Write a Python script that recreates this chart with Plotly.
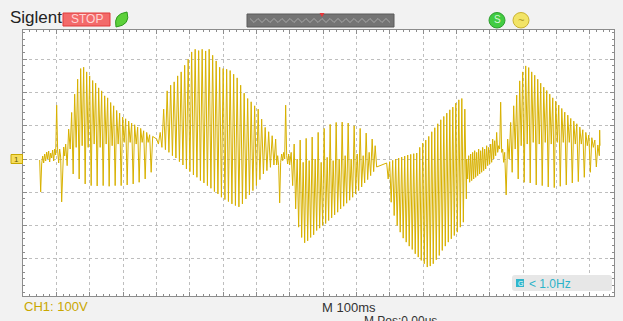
import numpy as np
import plotly.graph_objects as go

# ---------------- CH1 waveform (time in ms, voltage in V) -------------
lead_span_ms = [50, 125]
lead_v = [-3, -99, -15, 9, -12, 15, -6, 21, 0, 24, -9, 18, 3, 27, -6, 30, 12, 162, 24, -12,
          30, 6, -129, 0, 36, 9]

b_span_ms = [128, 389]
b_peaks = [45, 90, 140, 195, 240, 272, 276, 262, 250, 236, 228, 214, 205, 190, 184, 170, 160,
           146, 138, 126, 121, 114, 108, 103, 96, 92, 85, 80, 73, 68]
b_troughs = [-20, 30, -45, 35, -60, 40, -75, 35, -80, 45, -81, 35, -80, 45, -82, 40, -80, 45,
             -80, 50, -78, 50, -75, 45, -70, 50, -60, 50, -40]

c_span_ms = [401, 758]
c_peaks = [60, 80, 150, 205, 222, 232, 250, 262, 282, 300, 322, 330, 326, 330, 325, 330, 312,
           295, 276, 272, 270, 266, 255, 244, 222, 198, 182, 172, 160, 150, 120, 95, 82, 70, 60]
c_troughs = [45, 35, 28, 20, 10, 3, -8, -18, -30, -38, -48, -55, -65, -72, -80, -88, -98, -105,
             -115, -122, -128, -135, -140, -144, -135, -120, -108, -95, -80, -62, -45, -35, -25, -18]

g1_span_ms = [761, 797]
g1_v = [-18, 10, -20, -132, -10, 15, -5, 20, 0, 162, 10, -15, 15]

d_span_ms = [800, 1061]
d_troughs = [-18, -80, -150, -205, -236, -252, -246, -236, -228, -215, -208, -200, -194, -185,
             -177, -168, -160, -150, -142, -133, -124, -115, -105, -95, -84, -72, -62, -50, -38, -24]
d_peaks = [20, 45, 0, 57, -10, 62, -5, 66, 0, 80, -10, 92, 5, 104, -5, 110, 0, 111, 10, 108, 0,
           100, 15, 92, 10, 78, 20, 60, 40]

e_span_ms = [1091, 1330]
e_peaks = [-12, -8, -4, 0, 3, 6, 9, 12, 14, 16, 18, 35, 48, 57, 68, 82, 94, 106, 118, 128, 138,
           148, 156, 168, 178, 182, 150]
e_troughs = [-60, -130, -170, -200, -220, -238, -250, -262, -272, -285, -295, -305, -315, -325,
             -322, -315, -303, -290, -275, -262, -250, -240, -230, -220, -205, -190, -120]

g2_span_ms = [1331, 1442]
g2_v = [0, -60, 10, -70, 15, -65, 20, -60, 25, -55, 20, -50, 30, -45, 25, -40, 35, -35, 30, -30,
        40, -20, 35, -15, 45, -10, 60, 0, 55, 10, 80, 20, 40, 30, 171, 20, 30, -10]

f_span_ms = [1445, 1729]
f_peaks = [20, 60, 110, 160, 192, 235, 262, 280, 275, 262, 252, 240, 228, 216, 206, 195, 184,
           174, 162, 152, 141, 132, 122, 114, 106, 96, 88, 80, 72, 64, 57, 42]
f_troughs = [-108, 0, -40, 30, -60, 40, -70, 45, -72, 50, -78, 45, -80, 50, -84, 45, -86, 50,
             -82, 50, -78, 50, -72, 45, -68, 45, -55, 40, -40, 35, -24, 10]

tail_span_ms = [1730, 1731]
tail_v = [87, 40]

# screen scales
x_range_ms = [0, 1773]        # 100 ms / div
y_range_v = [-412, 388]       # 100 V / div


def interleave(a, b):
    out = []
    for i in range(max(len(a), len(b))):
        if i < len(a):
            out.append(a[i])
        if i < len(b):
            out.append(b[i])
    return out


segments = [
    (lead_span_ms, lead_v),
    (b_span_ms, interleave(b_peaks, b_troughs)),
    (c_span_ms, interleave(c_peaks, c_troughs)),
    (g1_span_ms, g1_v),
    (d_span_ms, interleave(d_troughs, d_peaks)),
    (e_span_ms, interleave(e_peaks, e_troughs)),
    (g2_span_ms, g2_v),
    (f_span_ms, interleave(f_peaks, f_troughs)),
    (tail_span_ms, tail_v),
]
ts, vs = [], []
for span, vals in segments:
    ts.extend(np.linspace(span[0], span[1], len(vals)).tolist())
    vs.extend(vals)

# ---------------- figure ----------------
W, H = 623, 321
ML, MR, MT, MB = 23, 9, 30, 25
PW, PH = W - ML - MR, H - MT - MB


def px(x):
    return (x - ML) / PW


def py(y):
    return (H - MB - y) / PH


TRACE = '#D8B100'
FONT = 'Liberation Sans, Arial, sans-serif'

fig = go.Figure()
fig.add_trace(go.Scatter(x=ts, y=vs, mode='lines',
                         line=dict(color=TRACE, width=1), hoverinfo='skip'))

shapes = []
# STOP box
shapes.append(dict(type='rect', xref='paper', yref='paper', x0=px(63), x1=px(110), y0=py(26), y1=py(13),
                   fillcolor='#F36A6A', line=dict(color='#E03A3A', width=1)))
# green leaf icon
shapes.append(dict(type='path', xref='paper', yref='paper',
                   path='M {:.4f},{:.4f} Q {:.4f},{:.4f} {:.4f},{:.4f} Q {:.4f},{:.4f} {:.4f},{:.4f} Z'.format(
                       px(116), py(27), px(113), py(14), px(127), py(12), px(131), py(25), px(116), py(27)),
                   fillcolor='#5CD03A', line=dict(color='#2E9A1E', width=1)))
# grey timebase bar
shapes.append(dict(type='rect', xref='paper', yref='paper', x0=px(247), x1=px(394), y0=py(27), y1=py(14),
                   fillcolor='#747474', line=dict(color='#5a5a5a', width=1)))
zz = []
for i, xx in enumerate(range(250, 392, 4)):
    yy = 18.5 if i % 2 == 0 else 22.5
    zz.append(('M' if i == 0 else 'L') + ' {:.4f},{:.4f}'.format(px(xx), py(yy)))
shapes.append(dict(type='path', xref='paper', yref='paper', path=' '.join(zz),
                   line=dict(color='#A8A8A8', width=1)))
shapes.append(dict(type='path', xref='paper', yref='paper',
                   path='M {:.4f},{:.4f} L {:.4f},{:.4f} L {:.4f},{:.4f} Z'.format(
                       px(319.5), py(13), px(324.5), py(13), px(322), py(17)),
                   fillcolor='#E8353A', line=dict(width=0)))
# green / yellow round icons
shapes.append(dict(type='circle', xref='paper', yref='paper', x0=px(489), x1=px(505), y0=py(28), y1=py(12.5),
                   fillcolor='#42CC42', line=dict(color='#2E9E2E', width=1)))
shapes.append(dict(type='circle', xref='paper', yref='paper', x0=px(513), x1=px(529), y0=py(28), y1=py(12.5),
                   fillcolor='#F2E466', line=dict(color='#C9B231', width=1)))
# channel 1 marker
shapes.append(dict(type='rect', xref='paper', yref='paper', x0=px(11), x1=px(22.5), y0=py(163.5), y1=py(154.5),
                   fillcolor='#F6DD5C', line=dict(color='#C9A800', width=1)))
# frequency counter box
r = 3
bx0, bx1, by0, by1 = 512, 612, 275, 291
pth = ('M {a},{b} L {c},{b} Q {d},{b} {d},{e} L {d},{f} Q {d},{g} {c},{g} L {a},{g} '
       'Q {h},{g} {h},{f} L {h},{e} Q {h},{b} {a},{b} Z').format(
    a='{:.4f}'.format(px(bx0 + r)), b='{:.4f}'.format(py(by0)), c='{:.4f}'.format(px(bx1 - r)),
    d='{:.4f}'.format(px(bx1)), e='{:.4f}'.format(py(by0 + r)), f='{:.4f}'.format(py(by1 - r)),
    g='{:.4f}'.format(py(by1)), h='{:.4f}'.format(px(bx0)))
shapes.append(dict(type='path', xref='paper', yref='paper', path=pth,
                   fillcolor='#E7E7E7', line=dict(width=0)))
shapes.append(dict(type='rect', xref='paper', yref='paper', x0=px(516), x1=px(524), y0=py(287), y1=py(279),
                   fillcolor='#2FB6CC', line=dict(width=0)))

annotations = [
    dict(text='Siglent', x=px(8), y=py(18), xanchor='left', yanchor='middle',
         font=dict(family=FONT, size=17, color='#222222')),
    dict(text='STOP', x=px(86.5), y=py(19.5), xanchor='center', yanchor='middle',
         font=dict(family=FONT, size=12, color='#FFD4D4')),
    dict(text='S', x=px(497), y=py(20), xanchor='center', yanchor='middle',
         font=dict(family=FONT, size=10, color='#D6F7D6')),
    dict(text='~', x=px(521), y=py(20), xanchor='center', yanchor='middle',
         font=dict(family=FONT, size=11, color='#A8951E')),
    dict(text='1', x=px(16.8), y=py(159), xanchor='center', yanchor='middle',
         font=dict(family=FONT, size=8, color='#6A5A00')),
    dict(text='G', x=px(520), y=py(283), xanchor='center', yanchor='middle',
         font=dict(family=FONT, size=7, color='#FFFFFF')),
    dict(text='< 1.0Hz', x=px(527), y=py(283.5), xanchor='left', yanchor='middle',
         font=dict(family=FONT, size=12, color='#2CB3C9')),
    dict(text='CH1: 100V', x=px(22), y=py(306.5), xanchor='left', yanchor='middle',
         font=dict(family=FONT, size=13, color='#C9A700')),
    dict(text='M 100ms', x=px(320), y=py(307), xanchor='left', yanchor='middle',
         font=dict(family=FONT, size=13, color='#333333')),
    dict(text='M Pos:0.00us', x=px(362), y=py(312), xanchor='left', yanchor='top',
         font=dict(family=FONT, size=12, color='#333333')),
]
for a in annotations:
    a.update(xref='paper', yref='paper', showarrow=False)

axis_common = dict(showgrid=True, gridcolor='#BEBEBE', griddash='3px,3px', gridwidth=1,
                   ticks='inside', ticklen=4, tickcolor='#8C8C8C', showticklabels=False,
                   showline=True, linecolor='#8C8C8C', linewidth=1, mirror='ticks',
                   zeroline=False, fixedrange=True)

fig.update_layout(
    width=W, height=H,
    margin=dict(l=ML, r=MR, t=MT, b=MB, pad=0),
    paper_bgcolor='#F2F2F2', plot_bgcolor='#FFFFFF',
    showlegend=False,
    xaxis=dict(range=x_range_ms, tick0=0, dtick=100,
               minor=dict(ticks='inside', ticklen=2, tickcolor='#8C8C8C', tick0=0, dtick=20, showgrid=False),
               **axis_common),
    yaxis=dict(range=y_range_v, tickmode='array', tickvals=[-300, -200, -100, 0, 100, 200, 300],
               minor=dict(ticks='inside', ticklen=2, tickcolor='#8C8C8C', tickmode='linear', tick0=0, dtick=20,
                          showgrid=False),
               **axis_common),
    shapes=shapes,
    annotations=annotations,
)

fig.write_html('out.html', config={'displayModeBar': False},
               post_script="document.body.style.margin='0';document.body.style.overflow='hidden';")
